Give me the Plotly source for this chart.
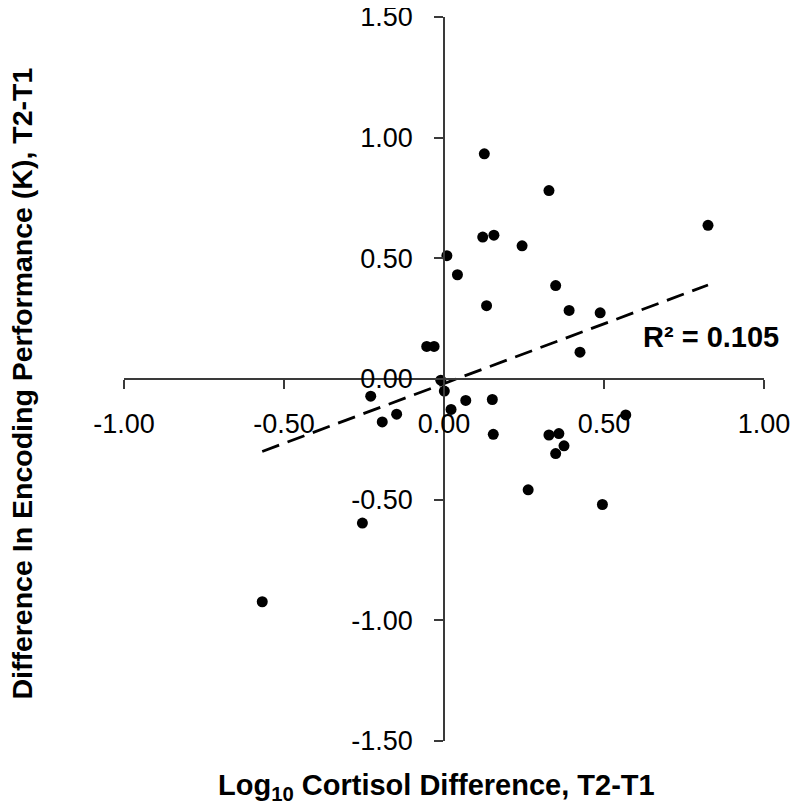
import numpy as np
import plotly.graph_objects as go

# Data
cortisol_diff = [0.126, 0.328, 0.121, 0.156, 0.244, 0.009, 0.042, 0.133, 0.349, 0.391,
                 0.488, -0.054, -0.031, 0.425, -0.010, 0.001, -0.229, 0.068, 0.151, 0.022,
                 -0.148, -0.193, 0.568, 0.154, 0.328, 0.359, 0.375, 0.349, 0.263, 0.495,
                 -0.255, -0.568, 0.825]
encoding_diff = [0.933, 0.781, 0.588, 0.596, 0.552, 0.511, 0.432, 0.304, 0.387, 0.284,
                 0.274, 0.135, 0.135, 0.111, -0.005, -0.050, -0.071, -0.089, -0.085, -0.126,
                 -0.146, -0.178, -0.149, -0.229, -0.232, -0.226, -0.277, -0.309, -0.459, -0.520,
                 -0.597, -0.923, 0.637]
x_ticks = [-1.0, -0.5, 0.0, 0.5, 1.0]
x_tick_labels = ["-1.00", "-0.50", "0.00", "0.50", "1.00"]
y_ticks = [-1.5, -1.0, -0.5, 0.0, 0.5, 1.0, 1.5]
y_tick_labels = ["-1.50", "-1.00", "-0.50", "0.00", "0.50", "1.00", "1.50"]
r2_label = "R² = 0.105"
x_title = "Log<sub>10</sub> Cortisol Difference, T2-T1"
y_title = "Difference In Encoding Performance (K), T2-T1"

# Linear trendline fitted to the data
xs = np.array(cortisol_diff)
ys = np.array(encoding_diff)
slope, intercept = np.polyfit(xs, ys, 1)
trend_x = np.array([xs.min(), xs.max()])
trend_y = slope * trend_x + intercept

FONT = "Liberation Sans, Arial, sans-serif"

fig = go.Figure()
fig.add_trace(go.Scatter(
    x=trend_x, y=trend_y, mode="lines",
    line=dict(color="black", width=2.8, dash="18px,9px"),
    hoverinfo="skip", showlegend=False))
fig.add_trace(go.Scatter(
    x=cortisol_diff, y=encoding_diff, mode="markers",
    marker=dict(color="black", size=11, line=dict(width=0)),
    showlegend=False))

fig.add_annotation(x=0.834, y=0.172, xref="x", yref="y", text="<b>" + r2_label + "</b>",
                   showarrow=False, font=dict(family=FONT, size=29, color="black"))
fig.add_annotation(x=0.489, y=-0.064, xref="paper", yref="paper", text="<b>" + x_title + "</b>",
                   showarrow=False, font=dict(family=FONT, size=29, color="black"),
                   xanchor="center", yanchor="middle")
fig.add_annotation(x=-0.159, y=0.494, xref="paper", yref="paper", text="<b>" + y_title + "</b>",
                   showarrow=False, textangle=-90, xanchor="center", yanchor="middle",
                   font=dict(family=FONT, size=28.5, color="black"))

# page body has an 8px margin, so the figure is sized to fit inside the 800x812 window
fig.update_layout(
    width=784, height=796,
    margin=dict(l=116, r=28, t=9, b=63, autoexpand=False),
    paper_bgcolor="white", plot_bgcolor="white",
    xaxis=dict(range=[-1, 1], tickvals=x_ticks, ticktext=x_tick_labels, automargin=False,
               anchor="free", position=0.5, showline=True, linecolor="#3a3a3a", linewidth=1.5,
               ticks="outside", ticklen=9, tickwidth=1.5, tickcolor="#3a3a3a",
               showgrid=False, zeroline=False, ticklabelstandoff=12,
               ticklabeloverflow="allow",
               tickfont=dict(family=FONT, size=27, color="black")),
    yaxis=dict(range=[-1.5, 1.5], tickvals=y_ticks, ticktext=y_tick_labels, automargin=False,
               anchor="free", position=0.5, showline=True, linecolor="#3a3a3a", linewidth=1.5,
               ticks="outside", ticklen=9, tickwidth=1.5, tickcolor="#3a3a3a",
               showgrid=False, zeroline=False, ticklabelstandoff=16,
               ticklabeloverflow="allow",
               tickfont=dict(family=FONT, size=27, color="black")),
)

fig.write_html("out.html")
